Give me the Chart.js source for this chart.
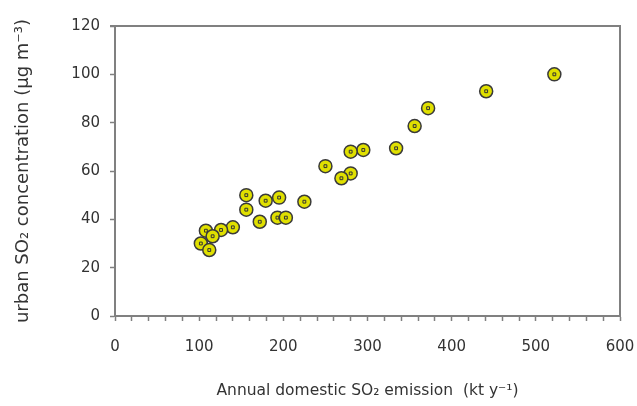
<!DOCTYPE html>
<html>
<head>
<meta charset="utf-8">
<script src="https://cdn.jsdelivr.net/npm/chart.js@4.4.0/dist/chart.umd.min.js"></script>
<style>
html,body{margin:0;padding:0;background:#fff;}
#wrap{width:637px;height:406px;position:relative;}
</style>
</head>
<body>
<div id="wrap"><canvas id="c" width="637" height="406"></canvas></div>
<script>
// Annual domestic SO2 emission (kt/y)
const emission = [522, 441, 372, 356, 334, 295, 280, 250, 280, 269, 156, 156, 179, 195, 225, 172, 193, 203, 140, 126, 108, 116, 102, 112];
// Urban SO2 concentration (ug/m3)
const concentration = [100, 93, 86, 78.6, 69.4, 68.7, 68, 62, 59, 57, 50, 44, 47.7, 49, 47.3, 39, 40.7, 40.7, 36.7, 35.6, 35.3, 33, 30, 27.3];
const xTicks = [0, 100, 200, 300, 400, 500, 600];
const yTicks = [0, 20, 40, 60, 80, 100, 120];
const xTitle = 'Annual domestic SO\u2082 emission  (kt y\u207B\u00B9)';
const yTitle = 'urban SO\u2082 concentration (\u00B5g m\u207B\u00B3)';

const pts = emission.map((x, i) => ({x: x, y: concentration[i]}));

const frame = {
  id: 'frame',
  afterDraw(chart) {
    const a = chart.chartArea, ctx = chart.ctx;
    ctx.save();
    ctx.strokeStyle = '#808080';
    ctx.lineWidth = 2;
    ctx.beginPath();
    ctx.moveTo(a.left - 5, a.top);
    ctx.lineTo(a.right, a.top);
    ctx.lineTo(a.right, a.bottom);
    ctx.stroke();
    ctx.restore();
  }
};

Chart.defaults.font.family = '"DejaVu Sans", "Liberation Sans", Arial, sans-serif';
Chart.defaults.color = '#333';

new Chart(document.getElementById('c'), {
  type: 'scatter',
  data: {
    datasets: [
      {
        data: pts,
        pointStyle: 'rect',
        pointRadius: 2,
        backgroundColor: 'rgba(0,0,0,0)',
        borderColor: '#333',
        borderWidth: 1,
        order: 0
      },
      {
        data: pts,
        pointStyle: 'circle',
        pointRadius: 6.5,
        backgroundColor: '#e0e000',
        borderColor: '#3a3a3a',
        borderWidth: 1.5,
        order: 1
      }
    ]
  },
  plugins: [frame],
  options: {
    responsive: false,
    animation: false,
    layout: {padding: {top: 26, right: 4, bottom: 0, left: 0}},
    plugins: {legend: {display: false}, tooltip: {enabled: false}},
    scales: {
      x: {
        type: 'linear',
        min: 0, max: 600,
        afterFit(s) { s.height = 90; s.paddingRight = 17; },
        afterBuildTicks(s) {
          const t = [];
          for (let v = 0; v <= 600; v += 20) t.push({value: v});
          s.ticks = t;
        },
        ticks: {
          autoSkip: false,
          maxRotation: 0,
          padding: 17,
          font: {size: 15},
          color: '#333',
          callback: v => (xTicks.includes(v) ? String(v) : '')
        },
        grid: {
          drawOnChartArea: false,
          drawTicks: true,
          tickLength: 5,
          tickColor: '#808080',
          tickWidth: 1.5
        },
        border: {display: true, color: '#808080', width: 2},
        title: {
          display: true,
          text: xTitle,
          font: {size: 15.5},
          color: '#333',
          padding: {top: 0, bottom: 6}
        }
      },
      y: {
        type: 'linear',
        min: 0, max: 120,
        afterFit(s) { s.width = 115; },
        afterBuildTicks(s) { s.ticks = yTicks.map(v => ({value: v})); },
        ticks: {
          padding: 10,
          font: {size: 15},
          color: '#333'
        },
        grid: {
          drawOnChartArea: false,
          drawTicks: true,
          tickLength: 5,
          tickColor: '#808080',
          tickWidth: 1.5
        },
        border: {display: true, color: '#808080', width: 2},
        title: {
          display: true,
          text: yTitle,
          font: {size: 18},
          color: '#333',
          padding: {top: 13, bottom: 0}
        }
      }
    }
  }
});
</script>
</body>
</html>
